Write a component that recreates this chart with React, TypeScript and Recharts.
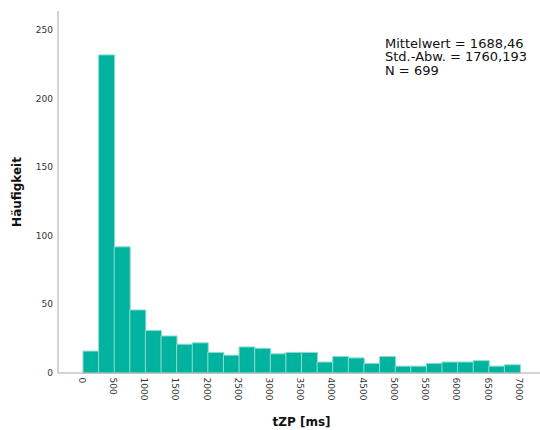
import React from "react";
import { BarChart, Bar, XAxis, YAxis, Label } from "recharts";

// histogram bins: 250 ms wide, first bin starts at 20 ms
const binStart = 20;
const binWidth = 250;
const counts = [
  16, 232, 92, 46, 31, 27, 21, 22, 15, 13, 19, 18, 14, 15, 15, 8, 12, 11, 7, 12, 5, 5, 7, 8, 8, 9, 5, 6,
];

const msTicks = [0, 500, 1000, 1500, 2000, 2500, 3000, 3500, 4000, 4500, 5000, 5500, 6000, 6500, 7000];
const countTicks = [0, 50, 100, 150, 200, 250];
const statLines = ["Mittelwert = 1688,46", "Std.-Abw. = 1760,193", "N = 699"];

const msDomain: [number, number] = [-380, 7340];
const countDomain: [number, number] = [0, 264];

const W = 540;
const H = 430;
const M = { top: 11, right: 0, bottom: 0, left: 0 };
const Y_AXIS_W = 58;
const X_AXIS_H = 57;

const FONT = "'DejaVu Sans', Verdana, sans-serif";
const TEAL = "#00b39e";
const AXIS = "#a8a8a8";

// each bar sits on its bin centre
const rows = counts.map((count, i) => ({ mid: binStart + i * binWidth + binWidth / 2, count }));

const MsTick = (props: any) => {
  const { x, y, payload } = props;
  return (
    <text
      transform={`translate(${x},${y + 4.5}) rotate(90)`}
      textAnchor="start"
      dominantBaseline="central"
      fontSize={9}
      fontFamily={FONT}
      fill="#333"
    >
      {payload.value}
    </text>
  );
};

const CountTick = (props: any) => {
  const { x, y, payload } = props;
  return (
    <text x={x - 5} y={y} textAnchor="end" dominantBaseline="central" fontSize={9} fontFamily={FONT} fill="#333">
      {payload.value}
    </text>
  );
};

export default function App() {
  return (
    <div style={{ position: "absolute", left: 0, top: 0, width: W, height: H, background: "#fff" }}>
      <BarChart width={W} height={H} data={rows} margin={M} barCategoryGap={0} barGap={0}>
        <XAxis
          dataKey="mid"
          type="number"
          domain={msDomain}
          ticks={msTicks}
          allowDataOverflow
          interval={0}
          height={X_AXIS_H}
          stroke={AXIS}
          tickLine={false}
          tickSize={0}
          tickMargin={0}
          tick={<MsTick />}
        >
          <Label
            content={(p: any) => {
              const vb = p.viewBox;
              return (
                <text
                  x={vb.x + vb.width / 2 + 2.5}
                  y={vb.y + 52.5}
                  textAnchor="middle"
                  fontSize={12}
                  fontWeight="bold"
                  fontFamily={FONT}
                  fill="#111"
                >
                  tZP [ms]
                </text>
              );
            }}
          />
        </XAxis>
        <YAxis
          domain={countDomain}
          ticks={countTicks}
          interval={0}
          width={Y_AXIS_W}
          stroke={AXIS}
          tickLine={false}
          tickSize={0}
          tickMargin={0}
          tick={<CountTick />}
        >
          <Label
            content={(p: any) => {
              const vb = p.viewBox;
              const cy = vb.y + vb.height / 2;
              return (
                <text
                  transform={`translate(16.5,${cy}) rotate(-90)`}
                  textAnchor="middle"
                  dominantBaseline="central"
                  fontSize={12}
                  fontWeight="bold"
                  fontFamily={FONT}
                  fill="#111"
                >
                  Häufigkeit
                </text>
              );
            }}
          />
        </YAxis>
        <Bar dataKey="count" fill={TEAL} stroke="#8fdcd0" strokeWidth={1} isAnimationActive={false} />
      </BarChart>
      <div
        style={{
          position: "absolute",
          left: 385,
          top: 36.7,
          fontFamily: FONT,
          fontSize: 13,
          lineHeight: "13.5px",
          color: "#111",
          whiteSpace: "nowrap",
        }}
      >
        {statLines.map((s) => (
          <div key={s}>{s}</div>
        ))}
      </div>
    </div>
  );
}
